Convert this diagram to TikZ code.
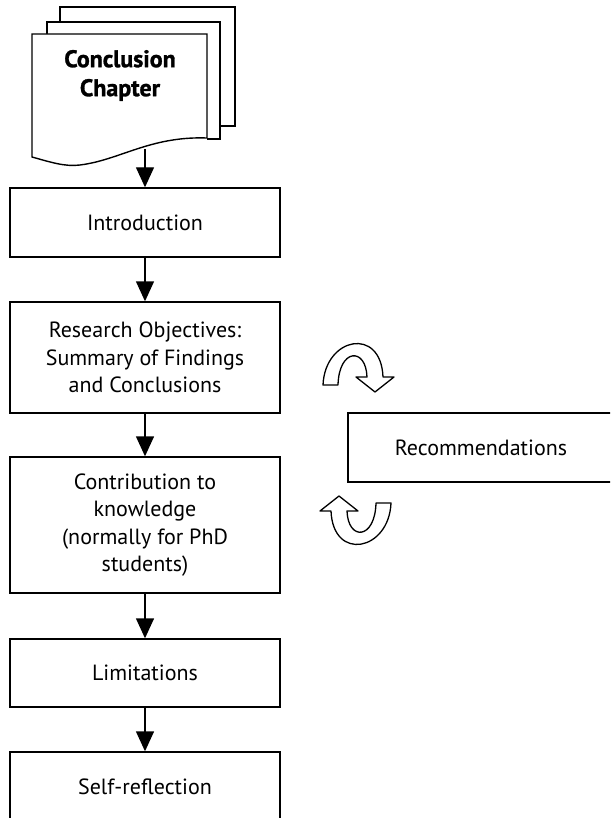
\documentclass[tikz,border=0pt]{standalone}
\usepackage{fontspec}
\setmainfont{PT Sans}
\newfontfamily\titlefont[BoldFeatures={FakeBold=1.2}]{PT Sans}
\usetikzlibrary{arrows.meta}
\begin{document}
\begin{tikzpicture}[x=1pt,y=-1pt,
  box/.style={draw, line width=1.4pt, minimum width=270pt, inner sep=0pt,
    align=center, font=\fontsize{22}{27.5}\selectfont},
  flow/.style={line width=1.4pt, -{Triangle[length=20pt,width=18pt]}},
  sheet/.style={line width=1.4pt, line join=miter, fill=white},
  cyclearrow/.style={line width=1.3pt, fill=white, line join=round}]
\clip (0,0) rectangle (610,818);

% stacked document sheets, back to front
\draw[sheet] (60,22) -- (60,7) -- (235,7) -- (235,126) -- (220,126);
\draw[sheet] (47,34) -- (47,22) -- (220,22) -- (220,139) -- (207,139);
\draw[sheet] (32,157) -- (32,34) -- (207,34) -- (207,138)
  .. controls (150,136) and (120,160) .. (80,165)
  .. controls (65,167) and (50,162) .. (32,157) -- cycle;
\node[font=\titlefont\fontsize{24}{29}\selectfont\bfseries, align=center] (doc)
  at (120,75.5) {Conclusion\\Chapter};
\coordinate (docbot) at (145,149);

% main flow
\node[box, minimum height=69pt]  (intro)    at (145,222.5) {Introduction};
\node[box, minimum height=111pt] (research) at (145,357.5)
  {Research Objectives:\\Summary of Findings\\and Conclusions};
\node[box, minimum height=136pt] (contrib)  at (145,525)
  {Contribution to\\knowledge\\(normally for PhD\\students)};
\node[box, minimum height=68pt]  (limit)    at (145,673) {Limitations};
\node[box, minimum height=70pt]  (self)     at (145,787) {Self-reflection};

\node[box, minimum width=266pt, minimum height=69pt] (recom) at (481,447.5)
  {Recommendations};

\draw[flow] (docbot) -- (intro);
\draw[flow] (intro) -- (research);
\draw[flow] (research) -- (contrib);
\draw[flow] (contrib) -- (limit);
\draw[flow] (limit) -- (self);

% curved ribbon arrows beside the recommendations box
\tikzset{ribbon/.pic={
  \draw[cyclearrow] (-52,-7) .. controls (-50,-55) and (6,-66) .. (8,-15)
    -- (19,-15) -- (0,0) -- (-19,-15) -- (-8,-15)
    .. controls (-9,-45) and (-36,-44) .. (-37,-7) -- cycle;
}}
\pic at (375,392) {ribbon};
\pic[rotate=180] at (339,496) {ribbon};
\end{tikzpicture}
\end{document}
